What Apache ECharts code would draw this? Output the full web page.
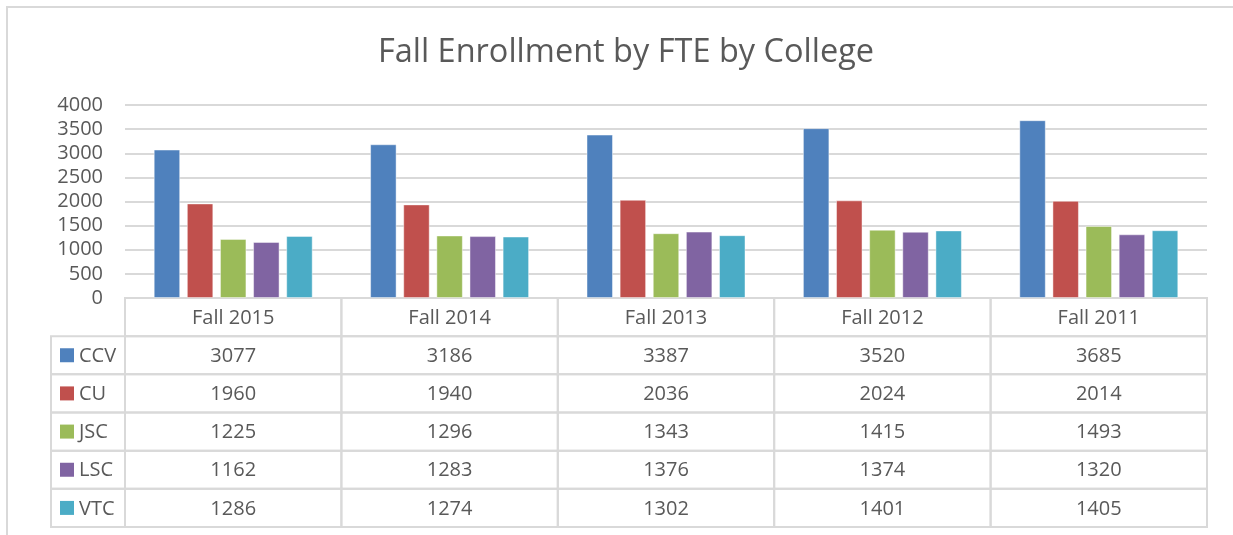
<!DOCTYPE html>
<html><head><meta charset="utf-8">
<script src="https://cdn.jsdelivr.net/npm/echarts@6/dist/echarts.min.js"></script>
<style>html,body{margin:0;padding:0;background:#fff}#c{width:1233px;height:535px}</style>
</head><body><div id="c"></div>
<script>
const categories = ['Fall 2015', 'Fall 2014', 'Fall 2013', 'Fall 2012', 'Fall 2011'];
const CCV = [3077, 3186, 3387, 3520, 3685];
const CU  = [1960, 1940, 2036, 2024, 2014];
const JSC = [1225, 1296, 1343, 1415, 1493];
const LSC = [1162, 1283, 1376, 1374, 1320];
const VTC = [1286, 1274, 1302, 1401, 1405];
const seriesNames = ['CCV', 'CU', 'JSC', 'LSC', 'VTC'];
const seriesValues = [CCV, CU, JSC, LSC, VTC];
const colors = ['#4F81BD', '#C0504D', '#9BBB59', '#8064A2', '#4BACC6'];
const yTicks = [0, 500, 1000, 1500, 2000, 2500, 3000, 3500, 4000];

const FONT = 'Open Sans';
const TXT = '#595959';
const LINE = '#d9d9d9';

// table cells: [col, row, text]; row 0 is the header
const tableRows = [''].concat(seriesNames);
const cells = [];
categories.forEach((c, ci) => {
  cells.push([ci, 0, c, -1]);
  seriesValues.forEach((vals, si) => cells.push([ci, si + 1, String(vals[ci]), si]));
});

const chart = echarts.init(document.getElementById('c'), null, {renderer: 'canvas'});
chart.setOption({
  animation: false,
  title: {
    text: 'Fall Enrollment by FTE by College',
    left: 621, textAlign: 'center', top: 31,
    textStyle: {fontFamily: FONT, fontSize: 32.5, fontWeight: 'normal', color: TXT}
  },
  graphic: [{
    type: 'rect', shape: {x: 7, y: 7, width: 1240, height: 540},
    style: {fill: 'none', stroke: LINE, lineWidth: 2}, silent: true
  }],
  grid: [
    {left: 125, right: 26, top: 105, bottom: 237},
    {left: 125, right: 26, top: 298, bottom: 8}
  ],
  xAxis: [
    {type: 'category', data: categories, gridIndex: 0,
     axisLine: {show: false}, axisTick: {show: false}, axisLabel: {show: false}},
    {type: 'category', data: categories, gridIndex: 1,
     axisLine: {show: false}, axisTick: {show: false}, axisLabel: {show: false}}
  ],
  yAxis: [
    {type: 'value', gridIndex: 0, min: 0, max: 4000, interval: 500,
     axisLine: {show: false}, axisTick: {show: false},
     splitLine: {lineStyle: {color: LINE, width: 2}},
     axisLabel: {fontFamily: FONT, fontSize: 20, color: TXT, margin: 22,
       formatter: v => yTicks.includes(v) ? String(v) : ''}},
    {type: 'category', gridIndex: 1, data: tableRows, inverse: true,
     axisLine: {show: false}, axisTick: {show: false}, axisLabel: {show: false}, splitLine: {show: false}}
  ],
  series: seriesNames.map((n, i) => ({
    name: n, type: 'bar', xAxisIndex: 0, yAxisIndex: 0,
    data: seriesValues[i], barWidth: 26.5, barGap: '25%',
    itemStyle: {color: colors[i], borderColor: 'rgba(255,255,255,0.45)', borderWidth: 1}
  })).concat([{
    type: 'custom', xAxisIndex: 1, yAxisIndex: 1,
    data: cells,
    renderItem: function (params, api) {
      const col = api.value(0), row = api.value(1);
      const center = api.coord([col, row]);
      const size = api.size([1, 1]);
      const x0 = center[0] - size[0] / 2, y0 = center[1] - size[1] / 2;
      const children = [{
        type: 'rect', shape: {x: x0, y: y0, width: size[0], height: size[1]},
        style: {fill: 'none', stroke: LINE, lineWidth: 2}
      }, {
        type: 'text', style: {
          text: cells[params.dataIndex][2], x: center[0], y: center[1] + 1,
          align: 'center', verticalAlign: 'middle',
          font: '20px "' + FONT + '"', fill: TXT
        }
      }];
      const si = cells[params.dataIndex][3];
      if (col === 0 && si >= 0) {
        const hw = 74;
        children.push({
          type: 'rect', shape: {x: x0 - hw, y: y0, width: hw, height: size[1]},
          style: {fill: 'none', stroke: LINE, lineWidth: 2}
        }, {
          type: 'rect', shape: {x: x0 - hw + 9, y: center[1] - 7, width: 14, height: 14},
          style: {fill: colors[si]}
        }, {
          type: 'text', style: {
            text: seriesNames[si], x: x0 - hw + 28, y: center[1] + 1,
            align: 'left', verticalAlign: 'middle',
            font: '20px "' + FONT + '"', fill: TXT
          }
        });
      }
      return {type: 'group', children: children};
    }
  }])
});
</script></body></html>
